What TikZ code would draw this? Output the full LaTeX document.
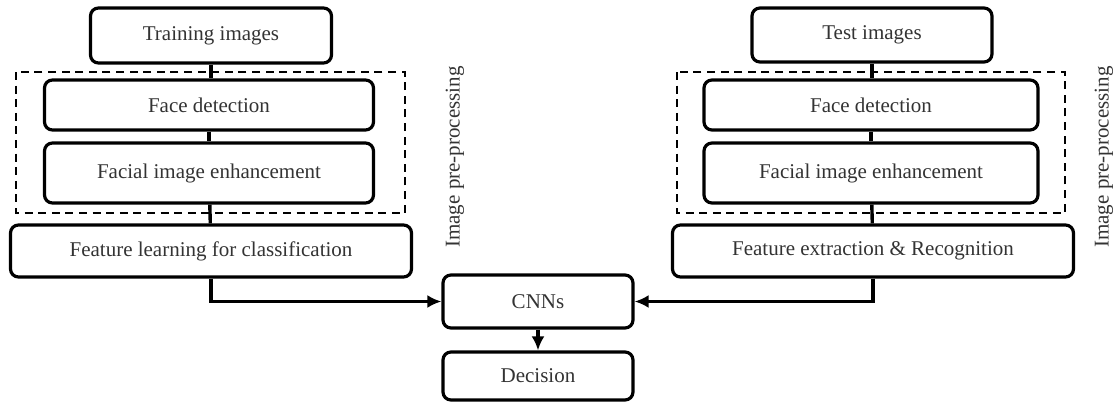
\documentclass[tikz,border=0pt]{standalone}
\usepackage{fontspec}
\setmainfont{Liberation Serif}
\usetikzlibrary{arrows.meta,positioning}

\begin{document}
\begin{tikzpicture}[x=0.5pt,y=-0.5pt,font=\fontsize{10.5}{12}\selectfont,
  stage/.style={draw,line width=1.6pt,rounded corners=4pt,text=black!80,
    inner sep=0pt},
  prebox/.style={draw,line width=1.1pt,dash pattern=on 4pt off 2.8pt},
  link/.style={line width=1.7pt},
  flow/.style={line width=1.6pt,-{Latex[length=7pt,width=6.5pt]}}]

\useasboundingbox (0,0) rectangle (1115,402);

% training branch
\begin{scope}
\draw[prebox] (16,72) rectangle (405,213);

\node[stage,minimum width=120.5pt,minimum height=27.5pt] (train) at (211,35.5) {Training images};
\node[stage,minimum width=164.5pt,minimum height=25pt] (faceL) at (209,105) {Face detection};
\node[stage,minimum width=164.5pt,minimum height=30pt] (enhL) at (209,173) {Facial image enhancement};
\node[stage,minimum width=200.5pt,minimum height=26pt] (featL) at (211,251) {Feature learning for classification};

\node[rotate=90,text=black!80] (preL) at (455,157) {Image pre-processing};
\end{scope}

% test branch
\begin{scope}
\draw[prebox] (677,72) rectangle (1065,213);

\node[stage,minimum width=120pt,minimum height=27pt] (test) at (872,35) {Test images};
\node[stage,minimum width=167pt,minimum height=25pt] (faceR) at (871,105) {Face detection};
\node[stage,minimum width=167pt,minimum height=30pt] (enhR) at (871,173) {Facial image enhancement};
\node[stage,minimum width=200.5pt,minimum height=26pt] (featR) at (873,251) {Feature extraction \& Recognition};

\node[rotate=90,text=black!80] (preR) at (1104,157) {Image pre-processing};
\end{scope}

% classifier
\node[stage,minimum width=95pt,minimum height=26.5pt] (cnn) at (538,301.5) {CNNs};
\node[stage,minimum width=95pt,minimum height=24pt] (dec) at (538,376) {Decision};

\draw[link] (train) -- (train|-faceL.north);
\draw[link] (faceL) -- (enhL);
\draw[link] (enhL) -- (featL);
\draw[link] (test) -- (test|-faceR.north);
\draw[link] (faceR) -- (enhR);
\draw[link] (enhR) -- (featR);

\draw[flow] (featL.south) |- (cnn.west);
\draw[flow] (featR.south) |- (cnn.east);
\draw[flow] (cnn) -- (dec);

\end{tikzpicture}
\end{document}
